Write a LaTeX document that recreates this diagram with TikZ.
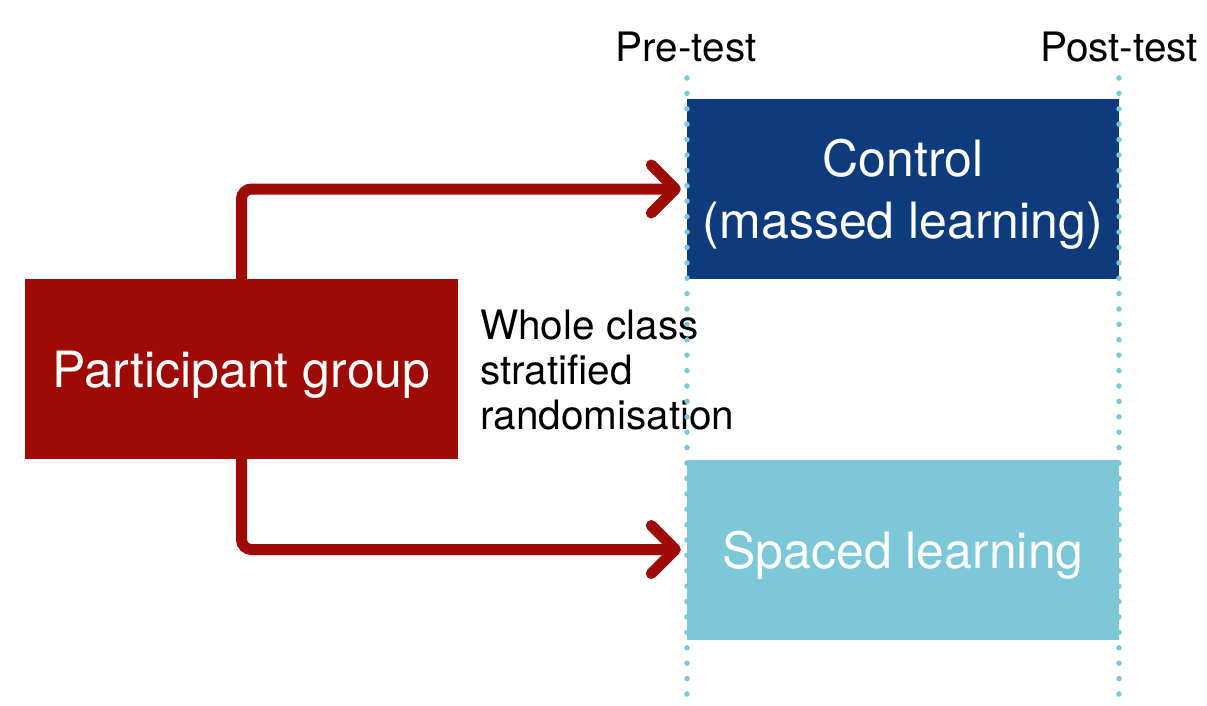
\documentclass[tikz,border=0pt]{standalone}
\usepackage{fontspec}
\setmainfont{TeX Gyre Heros}
\usepackage{tikz}
\usetikzlibrary{positioning,arrows.meta,calc}
\definecolor{deepred}{RGB}{158,10,4}
\definecolor{navy}{RGB}{13,59,124}
\definecolor{skyblue}{RGB}{124,199,216}
\tikzset{
  box/.style={rectangle,inner sep=0pt,align=center,text=white,text depth=0pt,font=\fontsize{50}{62}\selectfont},
  groupbox/.style={box,fill=deepred,minimum width=433pt,minimum height=180pt},
  armbox/.style={box,minimum width=432pt,minimum height=180pt},
  tag/.style={inner sep=0pt,font=\fontsize{40.5}{45}\selectfont},
  flow/.style={-{Straight Barb[length=24pt,width=48pt,line cap=round,line join=round]},line width=11pt,deepred,rounded corners=10pt,line cap=round,shorten >=6pt},
  timeline/.style={skyblue,line width=5.5pt,line cap=round,dash pattern=on 0pt off 15.4pt},
}

\begin{document}
\begin{tikzpicture}[x=1pt,y=-1pt]
  \useasboundingbox (0,0) rectangle (1207,706);
  \node[groupbox] (grp) at (241.5,369) {Participant group};
  \node[armbox,fill=navy] (ctrl) at (903,189) {Control\\(massed learning)};
  \node[armbox,fill=skyblue] (spaced) at (903,549.5) {Spaced learning};
  \node[tag,align=left,anchor=west] (rand) at (480,370) {Whole class\\stratified\\randomisation};
  \node[tag] (pre) at (686,47) {Pre-test};
  \node[tag] (post) at (1119,47) {Post-test};
  \coordinate (pretop) at (687,78);   \coordinate (prebot) at (687,694);
  \coordinate (posttop) at (1119,78); \coordinate (postbot) at (1119,694);
  \draw[flow] (grp.north) |- (ctrl.west);
  \draw[flow] (grp.south) |- (spaced.west);
  \draw[timeline] (pretop) -- (prebot);
  \draw[timeline] (posttop) -- (postbot);
\end{tikzpicture}
\end{document}
